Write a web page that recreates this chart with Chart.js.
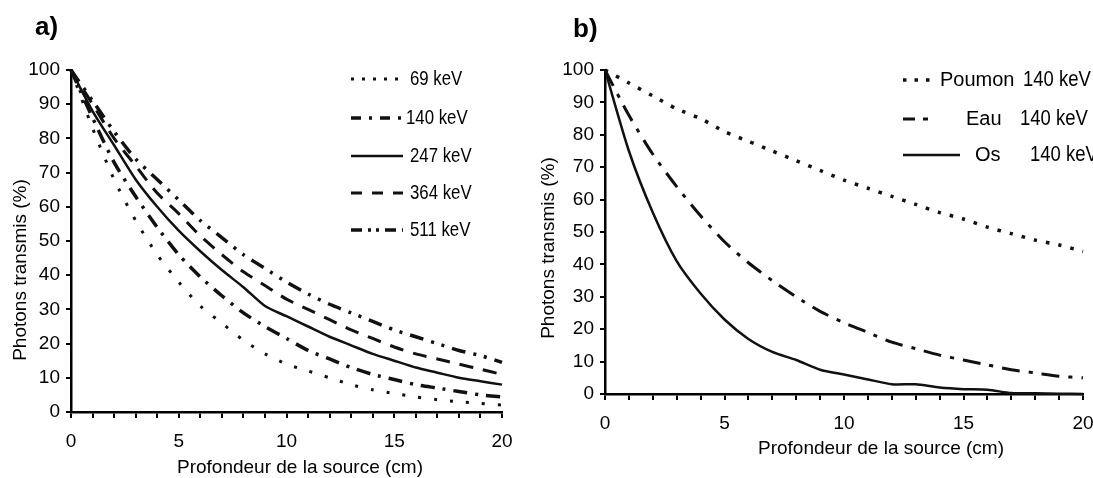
<!DOCTYPE html>
<html><head><meta charset="utf-8">
<script src="https://cdn.jsdelivr.net/npm/chart.js@4.4.1/dist/chart.umd.min.js"></script>
<style>
html,body{margin:0;padding:0;background:#fff;width:1093px;height:478px;overflow:hidden}
#ca{position:absolute;left:0;top:0}
#cb{position:absolute;left:540px;top:0}
</style></head><body>
<canvas id="ca" width="540" height="478"></canvas>
<canvas id="cb" width="553" height="478"></canvas>
<script>
// ---- data ----
const depthCm = [0,1,2,3,4,5,6,7,8,9,10,11,12,13,14,15,16,17,18,19,20];
const xTickLabels = [0,5,10,15,20];
const yTickLabels = [0,10,20,30,40,50,60,70,80,90,100];

const energiesA = ['69 keV','140 keV','247 keV','364 keV','511 keV'];
const kev69  = [100,83,68,56,46,38,31,26,21,17,14,12,10,8,6.5,5.4,4.4,3.6,3,2.5,2];
const kev140 = [100,86,73,63,54,46,39.5,34,29,25,21.5,18,15.5,13,11,9.5,8,7,6,5,4.4];
const kev247 = [100,88,78,68,60,53,47,41.5,36.5,31,28,25,22,19.5,17,15,13,11.5,10,9,8];
const kev364 = [100,90,80,72,64,58,51.5,46,41,37,33,30,27,24,21.5,19,17,15.5,14,12.5,11];
const kev511 = [100,91,82,74,68,62,56,51,46,42,38,34.5,31.5,29,26.5,24,22,20,18,16.5,14.5];

const tissuesB = ['Poumon','Eau','Os'];
const energyB = '140 keV';
const poumon = [100,96,92,88,85,81,78,75,72,69,66,63.5,61,58.5,56,54,51.5,49.5,47.5,46,44];
const eau    = [100,86,74,64,55,47,40.5,35,30,25.5,22,19,16,14,12,10.5,9,7.5,6.5,5.5,5];
const os     = [100,75,56,41,31,23,17,13,10.5,7.5,6,4.5,3,3,2,1.5,1.3,0.3,0.2,0.1,0];

const yTitle = 'Photons transmis (%)';
const xTitle = 'Profondeur de la source (cm)';

// ---- rendering ----
const REG = '"Liberation Sans",Arial,sans-serif';
const toXY = arr => arr.map((v,i)=>({x:depthCm[i], y:v}));

function narrowText(ctx, txt, x, y, size, sx){
  ctx.save();
  ctx.font = size + 'px ' + REG;
  ctx.translate(x, y);
  ctx.scale(sx, 1);
  ctx.fillText(txt, 0, 0);
  ctx.restore();
}

const extras = {
  id:'extras',
  afterDraw(chart, args, o){
    const ctx = chart.ctx;
    ctx.save();
    ctx.fillStyle = '#000';
    ctx.textBaseline = 'alphabetic';
    ctx.textAlign = 'left';
    ctx.font = 'bold 26px ' + REG;
    ctx.fillText(o.panel, o.panelX, o.panelY);
    ctx.font = '19px ' + REG;
    ctx.textAlign = 'center';
    ctx.fillText(xTitle, o.xTitleX, o.xTitleY);
    ctx.save();
    ctx.translate(o.yTitleX, o.yTitleY);
    ctx.rotate(-Math.PI/2);
    ctx.textBaseline = 'middle';
    ctx.fillText(yTitle, 0, 0);
    ctx.restore();
    // legend
    chart.data.datasets.forEach((ds,i)=>{
      const L = o.legend[i];
      ctx.save();
      ctx.strokeStyle = ds.borderColor;
      ctx.lineWidth = ds.borderWidth;
      ctx.setLineDash(L.dash || ds.borderDash || []);
      ctx.beginPath();
      ctx.moveTo(L.x1, L.y); ctx.lineTo(L.x2, L.y);
      ctx.stroke();
      ctx.restore();
      ctx.textBaseline = 'middle';
      ctx.textAlign = 'left';
      if (L.nameX !== undefined) {
        ctx.font = '20px ' + REG;
        ctx.fillText(ds.label, L.nameX, L.y);
        narrowText(ctx, energyB, L.eX, L.y, 22, 0.84);
      } else {
        narrowText(ctx, ds.label, L.tx, L.y, 21, 0.8);
      }
    });
    ctx.restore();
  }
};

function baseOptions(yW, xH, pad, extra){
  return {
    responsive:false, animation:false, devicePixelRatio:1,
    layout:{padding:pad},
    plugins:{legend:{display:false}, tooltip:{enabled:false}, extras:extra},
    elements:{point:{radius:0}, line:{tension:0.25, borderCapStyle:'butt'}},
    scales:{
      x:{type:'linear', min:0, max:20,
        afterFit:s=>{s.height = xH; s.paddingLeft = 0; s.paddingRight = 0;},
        afterBuildTicks:s=>{s.ticks = depthCm.map(v=>({value:v}));},
        ticks:{autoSkip:false, maxRotation:0, padding:12, color:'#000',
          font:{family:REG, size:19},
          callback:v=> xTickLabels.includes(v) ? String(v) : ''},
        grid:{drawOnChartArea:false, drawTicks:true, tickLength:6, color:'#000', lineWidth:2},
        border:{display:true, color:'#000', width:2.5}
      },
      y:{min:0, max:100,
        afterFit:s=>{s.width = yW; s.paddingTop = 0; s.paddingBottom = 0;},
        afterBuildTicks:s=>{s.ticks = yTickLabels.map(v=>({value:v}));},
        ticks:{autoSkip:false, padding:6, color:'#000', font:{family:REG, size:19}},
        grid:{drawOnChartArea:false, drawTicks:true, tickLength:5, color:'#000', lineWidth:2},
        border:{display:true, color:'#000', width:2.5}
      }
    }
  };
}

const C = '#111';
new Chart(document.getElementById('ca'), {
  type:'line',
  data:{datasets:[
    {label:energiesA[0], data:toXY(kev69),  borderColor:C, borderWidth:3,   borderDash:[3,13], clip:false},
    {label:energiesA[1], data:toXY(kev140), borderColor:C, borderWidth:3.5, borderDash:[14,8,3,8], clip:false},
    {label:energiesA[2], data:toXY(kev247), borderColor:C, borderWidth:2.5, clip:false},
    {label:energiesA[3], data:toXY(kev364), borderColor:C, borderWidth:3,   borderDash:[14,10], clip:false},
    {label:energiesA[4], data:toXY(kev511), borderColor:C, borderWidth:3.5, borderDash:[14,8,3,8,3,8], clip:false}
  ]},
  options: baseOptions(71, 66, {left:0, right:38, top:70, bottom:0}, {
    panel:'a)', panelX:35, panelY:35, xTitleX:300, xTitleY:473, yTitleX:21, yTitleY:270,
    legend:[
      {x1:351,x2:403,y:79,tx:410,dash:[3,8]},
      {x1:351,x2:405,y:118,tx:406,dash:[10,8,3,8]},
      {x1:351,x2:403,y:156,tx:410},
      {x1:351,x2:403,y:193,tx:410,dash:[11,10]},
      {x1:351,x2:403,y:230,tx:410,dash:[11,6,3,5,3,6]}
    ]})
  , plugins:[extras]
});

new Chart(document.getElementById('cb'), {
  type:'line',
  data:{datasets:[
    {label:tissuesB[0], data:toXY(poumon), borderColor:C, borderWidth:3.5, borderDash:[3.5,9], clip:false},
    {label:tissuesB[1], data:toXY(eau),    borderColor:C, borderWidth:3,   borderDash:[18,9,4,9], clip:false},
    {label:tissuesB[2], data:toXY(os),     borderColor:C, borderWidth:2.5, clip:false}
  ]},
  options: baseOptions(65, 84, {left:0, right:10, top:70, bottom:0}, {
    panel:'b)', panelX:33, panelY:37, xTitleX:341, xTitleY:454, yTitleX:9, yTitleY:248,
    legend:[
      {x1:363,x2:395,y:80,nameX:400,eX:483,dash:[3.5,8]},
      {x1:363,x2:395,y:119,nameX:426,eX:480,dash:[12,8,5,8]},
      {x1:363,x2:420,y:155,nameX:435,eX:490}
    ]})
  , plugins:[extras]
});
</script>
</body></html>
